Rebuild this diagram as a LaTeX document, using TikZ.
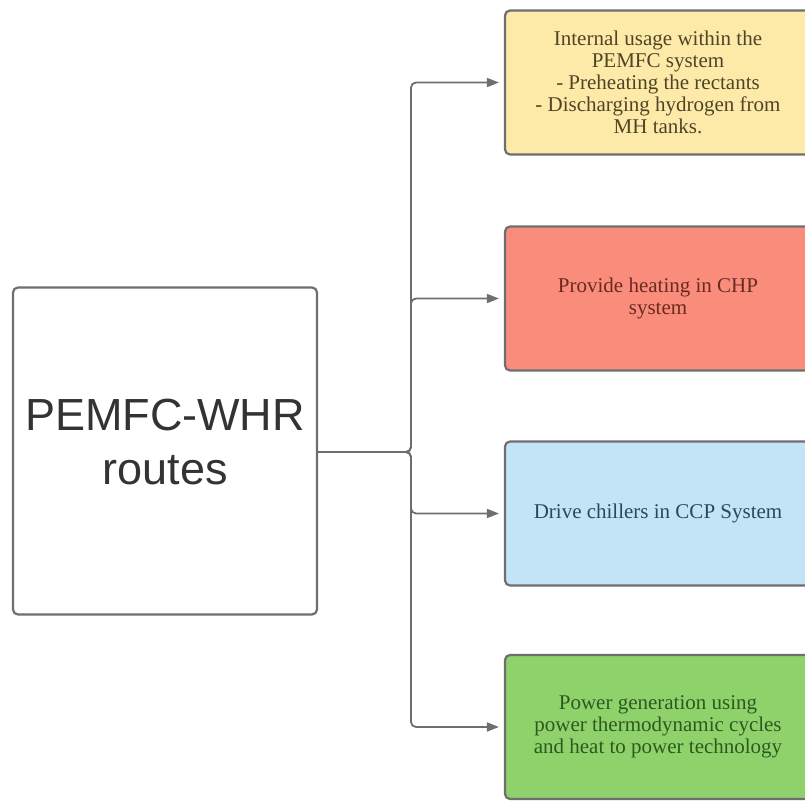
\documentclass[tikz,border=0pt]{standalone}
\usepackage{fontspec}
\setmainfont{Liberation Serif}
\newfontfamily\headfont{Liberation Sans}
\usetikzlibrary{arrows.meta}

\definecolor{boxline}{HTML}{6E6E6E}
\definecolor{fillyellow}{HTML}{FDE9A8}
\definecolor{fillred}{HTML}{FA8C7B}
\definecolor{fillblue}{HTML}{C3E4F6}
\definecolor{fillgreen}{HTML}{8FD26C}
\definecolor{textyellow}{HTML}{4E4526}
\definecolor{textred}{HTML}{6A2A22}
\definecolor{textblue}{HTML}{2E4757}
\definecolor{textgreen}{HTML}{2C5A1E}

\begin{document}
\begin{tikzpicture}[x=1pt, y=1pt,
  mainbox/.style={draw=boxline, line width=2.2pt, rounded corners=5pt, fill=white,
    minimum width=304pt, minimum height=327pt, align=center, text depth=18pt,
    font=\headfont\fontsize{45}{54}\selectfont, text=black!80},
  routebox/.style={draw=boxline, line width=2.2pt, rounded corners=5pt,
    minimum width=306pt, minimum height=144pt, align=center,
    font=\fontsize{21}{22}\selectfont},
  conn/.style={draw=boxline, line width=1.8pt, rounded corners=5pt,
    -{Triangle[length=12pt,width=9pt]}, shorten >=5pt}]

\useasboundingbox (0,0) rectangle (805,800);

\node[mainbox] (main) at (165,349) {PEMFC-WHR\\routes};

\node[routebox, fill=fillyellow, text=textyellow] (r1) at (658,717.5)
  {Internal usage within the\\PEMFC system\\- Preheating the rectants\\- Discharging hydrogen from\\MH tanks.};
\node[routebox, fill=fillred, text=textred] (r2) at (658,501.5)
  {Provide heating in CHP\\system};
\node[routebox, fill=fillblue, text=textblue] (r3) at (658,286.5)
  {Drive chillers in CCP System};
\node[routebox, fill=fillgreen, text=textgreen] (r4) at (658,73)
  {Power generation using\\power thermodynamic cycles\\and heat to power technology};

\coordinate (split) at (411,348);

\foreach \r in {r1, r2, r3, r4}
	\draw[conn] (main.east |- split) -- (split) |- (\r.west);

\end{tikzpicture}
\end{document}
